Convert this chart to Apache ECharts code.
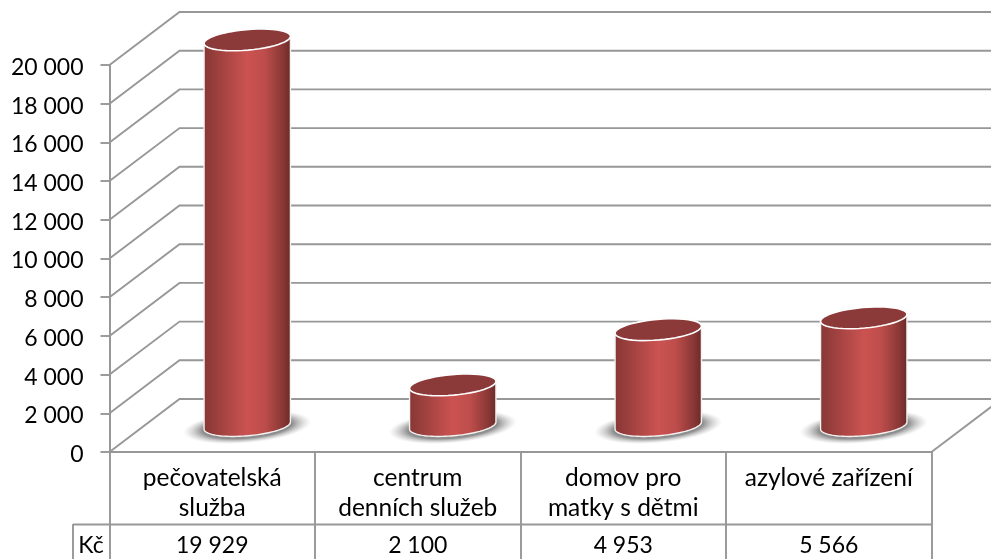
<!DOCTYPE html>
<html><head><meta charset="utf-8">
<style>html,body{margin:0;padding:0;background:#fff}#c{width:991px;height:559px}</style>
<script src="https://cdn.jsdelivr.net/npm/echarts@6/dist/echarts.min.js"></script>
</head><body><div id="c"></div>
<script>
var categories = ['pečovatelská\nslužba', 'centrum\ndenních služeb', 'domov pro\nmatky s dětmi', 'azylové zařízení'];
var values = [19929, 2100, 4953, 5566];
var tableLabels = ['19 929', '2 100', '4 953', '5 566'];
var tableRowName = 'Kč';
var gridTicks = [0, 2000, 4000, 6000, 8000, 10000, 12000, 14000, 16000, 18000, 20000];

var FONT = 'Lato, Carlito, "Open Sans", sans-serif';
var LINE = '#979797';
var LW = 1.9;
var DX = 70, DY = -53;

function ellipsePts(cx, cy, rx, ry, a, t0, t1) {
  var pts = [], n = 48, c = Math.cos(a), s = Math.sin(a);
  for (var i = 0; i <= n; i++) {
    var t = t0 + (t1 - t0) * i / n;
    var x = rx * Math.cos(t), y = ry * Math.sin(t);
    pts.push([cx + x * c - y * s, cy + x * s + y * c]);
  }
  return pts;
}

function renderWall(params, api) {
  var g = params.coordSys;
  var y = api.coord([0, api.value(1)])[1];
  var kids = [{
    type: 'polyline',
    shape: { points: [[g.x, y], [g.x + DX, y + DY], [g.x + g.width + DX, y + DY]] },
    style: { fill: null, stroke: LINE, lineWidth: LW }
  }];
  if (api.value(1) === 0) {
    kids.push({
      type: 'line',
      shape: { x1: g.x + g.width, y1: y, x2: g.x + g.width + DX, y2: y + DY },
      style: { stroke: LINE, lineWidth: LW }
    });
  }
  return { type: 'group', children: kids };
}

function renderCylinder(params, api) {
  var top = api.coord([api.value(0), api.value(1)]);
  var base = api.coord([api.value(0), 0]);
  var rx = api.size([1, 0])[0] * 0.211, ry = 10.3, a = -5 * Math.PI / 180;
  var cx = top[0] + DX / 2, ty = top[1] + DY / 2, by = base[1] + DY / 2;
  var baseFront = ellipsePts(cx, by, rx, ry, a, 0, Math.PI);
  return {
    type: 'group',
    children: [{
      type: 'circle',
      shape: { cx: 0, cy: 0, r: rx * 1.48 },
      x: cx, y: by + 1.5, scaleY: 0.25, rotation: 0.087,
      style: {
        fill: { type: 'radial', x: 0.5, y: 0.5, r: 0.5, colorStops: [
          { offset: 0, color: 'rgba(125,125,125,0.95)' },
          { offset: 0.7, color: 'rgba(130,130,130,0.9)' },
          { offset: 1, color: 'rgba(190,190,190,0)' }
        ] }
      }
    }, {
      type: 'polygon',
      shape: { points: ellipsePts(cx, ty, rx, ry, a, Math.PI, 2 * Math.PI).concat(baseFront) },
      style: {
        fill: { type: 'linear', x: 0, y: 0, x2: 1, y2: 0, colorStops: [
          { offset: 0, color: '#863735' },
          { offset: 0.5, color: '#cb5351' },
          { offset: 0.7, color: '#bd4d4b' },
          { offset: 0.9, color: '#8a3836' },
          { offset: 1, color: '#6a2928' }
        ] },
        stroke: '#f2f2f2', lineWidth: 1.4
      }
    }, {
      type: 'polygon',
      shape: { points: ellipsePts(cx, ty, rx, ry, a, 0, 2 * Math.PI) },
      style: { fill: '#8c3a39', stroke: '#ffffff', lineWidth: 1.6 }
    }]
  };
}

function renderTableCell(params, api) {
  var p = api.coord([api.value(0), 0]);
  return {
    type: 'text',
    style: {
      text: tableLabels[params.dataIndex], x: p[0], y: p[1] + 94,
      align: 'center', verticalAlign: 'middle',
      font: '23px ' + FONT, fill: '#000'
    }
  };
}

var chart = echarts.init(document.getElementById('c'), null, { renderer: 'canvas' });
chart.setOption({
  animation: false,
  backgroundColor: '#ffffff',
  grid: { left: 109.5, right: 59.5, top: 65, bottom: 107, containLabel: false },
  xAxis: {
    type: 'category', data: categories, boundaryGap: true,
    axisLine: { show: true, lineStyle: { color: LINE, width: 2 } },
    axisTick: { show: true, length: 110, alignWithLabel: false, lineStyle: { color: LINE, width: LW } },
    axisLabel: { interval: 0, margin: 11, fontFamily: FONT, fontSize: 24.5, lineHeight: 30, color: '#000', verticalAlign: 'top' }
  },
  yAxis: {
    type: 'value', min: 0, max: 20000, interval: 2000,
    axisLine: { show: true, lineStyle: { color: LINE, width: 2 } },
    axisTick: { show: true, length: 9, lineStyle: { color: LINE, width: LW } },
    splitLine: { show: false },
    axisLabel: {
      margin: 26, fontFamily: FONT, fontSize: 23, color: '#000', verticalAlign: 'top', lineHeight: 5,
      formatter: function (v) { return String(v).replace(/\B(?=(\d{3})+$)/g, ' '); }
    }
  },
  graphic: [
    { type: 'line', silent: true, shape: { x1: 73, y1: 524.5, x2: 931.5, y2: 524.5 }, style: { stroke: LINE, lineWidth: LW } },
    { type: 'line', silent: true, shape: { x1: 73, y1: 524, x2: 73, y2: 559 }, style: { stroke: LINE, lineWidth: LW } },
    { type: 'text', silent: true, x: 91, y: 546, style: { text: tableRowName, align: 'center', verticalAlign: 'middle', font: '23px ' + FONT, fill: '#000' } }
  ],
  series: [
    { type: 'custom', silent: true, z: 1, renderItem: renderWall, encode: { x: 0, y: 1 },
      data: gridTicks.map(function (v) { return [0, v]; }) },
    { type: 'custom', silent: true, z: 3, renderItem: renderCylinder, encode: { x: 0, y: 1 },
      data: values.map(function (v, i) { return [i, v]; }) },
    { type: 'custom', silent: true, z: 3, renderItem: renderTableCell, encode: { x: 0, y: 1 },
      data: values.map(function (v, i) { return [i, v]; }) }
  ]
});
</script></body></html>
